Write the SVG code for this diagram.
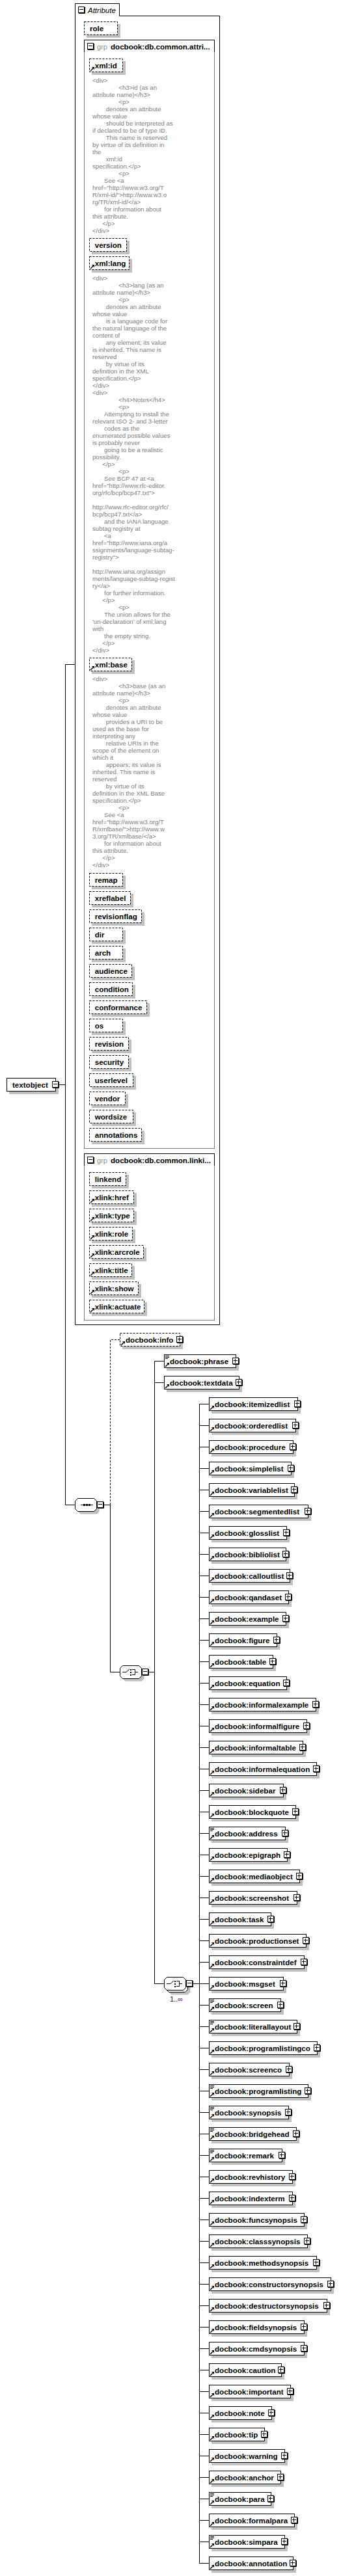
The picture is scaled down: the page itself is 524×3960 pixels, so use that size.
<svg xmlns="http://www.w3.org/2000/svg" xmlns:xlink="http://www.w3.org/1999/xlink" width="524" height="3960" viewBox="0 0 524 3960">
<style>
.sh{fill:#c0c0c0;stroke:none}
.el{fill:#fff;stroke:#000}
.at{fill:#fff;stroke:#000;stroke-dasharray:3 2}
.t{font-family:"Liberation Sans",Arial,sans-serif;font-weight:bold;font-size:11.6px;fill:#000}
.an{font-family:"Liberation Sans",Arial,sans-serif;font-size:9.6px;fill:#808080}
.ln{fill:none;stroke:#000}
.dl{fill:none;stroke:#000;stroke-dasharray:3 2}
.gb{fill:none;stroke:#808080}
.gh{fill:none;stroke:#000}
.grp{font-family:"Liberation Sans",Arial,sans-serif;font-size:11px;fill:#909090}
.tab{font-family:"Liberation Sans",Arial,sans-serif;font-style:italic;font-size:11.5px;fill:#000}
.mult{font-family:"Liberation Sans",Arial,sans-serif;font-size:11px;fill:#400040}
</style>
<defs>
<g id="plus"><rect x="0.5" y="0.5" width="9" height="9" fill="#fff" stroke="#000"/><path d="M10.5,1V10.5H1" fill="none" stroke="#000"/><path d="M2,4.5H8M4.5,2V8" fill="none" stroke="#000"/></g>
<g id="minus"><rect x="0.5" y="0.5" width="9" height="9" fill="#fff" stroke="#000"/><path d="M10.5,1V10.5H1" fill="none" stroke="#000"/><path d="M2,4.5H8" fill="none" stroke="#000"/></g>
<g id="ref"><path d="M2,19 L6,15" fill="none" stroke="#000" stroke-width="1.4"/><path d="M4,13 H8 V17 Z" fill="#000"/></g>
<path id="txi" d="M2,2.5H8M2,4.5H8M2,6.5H6" fill="none" stroke="#000"/>
<polygon id="oct" points="4.5,0.5 29.5,0.5 33.5,4.5 33.5,16.5 29.5,20.5 4.5,20.5 0.5,16.5 0.5,4.5"/>
<g id="chi"><path d="M4,10.5H10L15,6M19,6.5H23.5V14.5H19M23.5,10.5H28" fill="none" stroke="#000"/><rect x="16" y="6" width="2" height="2" fill="#000"/><rect x="16" y="10" width="2" height="2" fill="#000"/><rect x="16" y="14" width="2" height="2" fill="#000"/></g>
</defs>
<rect width="524" height="3960" fill="#fff"/>

<g id="connectors">
<path class="ln" d="M100.5,1021.5V2313.5M100.5,1021.5H115M91,1667.5H100.5M100.5,2313.5H115"/>
<path class="ln" d="M160,2313.5H169.5V2570.5H184"/>
<path class="dl" d="M169.5,2313V2059.5H184"/>
<path class="ln" d="M229,2570.5H237.5M237.5,2092.5V3049.5M237.5,2092.5H252M237.5,2125.5H252M237.5,3049.5H252"/>
<path class="ln" d="M297,3049.5H321M306.5,2158.5V3940.5M306.5,2158.5H321M306.5,2191.5H321M306.5,2224.5H321M306.5,2257.5H321M306.5,2290.5H321M306.5,2323.5H321M306.5,2356.5H321M306.5,2389.5H321M306.5,2422.5H321M306.5,2455.5H321M306.5,2488.5H321M306.5,2521.5H321M306.5,2554.5H321M306.5,2587.5H321M306.5,2620.5H321M306.5,2653.5H321M306.5,2686.5H321M306.5,2719.5H321M306.5,2752.5H321M306.5,2785.5H321M306.5,2818.5H321M306.5,2851.5H321M306.5,2884.5H321M306.5,2917.5H321M306.5,2950.5H321M306.5,2983.5H321M306.5,3016.5H321M306.5,3082.5H321M306.5,3115.5H321M306.5,3148.5H321M306.5,3181.5H321M306.5,3214.5H321M306.5,3247.5H321M306.5,3280.5H321M306.5,3313.5H321M306.5,3346.5H321M306.5,3379.5H321M306.5,3412.5H321M306.5,3445.5H321M306.5,3478.5H321M306.5,3511.5H321M306.5,3544.5H321M306.5,3577.5H321M306.5,3610.5H321M306.5,3643.5H321M306.5,3676.5H321M306.5,3709.5H321M306.5,3742.5H321M306.5,3775.5H321M306.5,3808.5H321M306.5,3841.5H321M306.5,3874.5H321M306.5,3907.5H321M306.5,3940.5H321"/>
</g>

<g id="attributes">
<path class="gh" d="M115.5,2036.5V5.5H183.5V24.5H337.5V2036.5Z"/>
<use href="#minus" x="120" y="10"/>
<text class="tab" x="135" y="19.5">Attribute</text>
<g id="a-role"><rect class="sh" x="133" y="37" width="52" height="21"/><rect class="at" x="129.5" y="33.5" width="51" height="20"/><text class="t" x="138" y="47.5">role</text></g>

<g id="grp-common-attributes">
<rect class="gb" x="129.5" y="61.5" width="200" height="1704"/>
<path class="gh" d="M129.5,80V61.5H329.5V80"/>
<use href="#minus" x="134" y="66"/>
<text class="grp" x="149" y="75.5">grp</text>
<text class="t" x="170" y="75.5">docbook:db.common.attri...</text>
<g id="a-xml-id"><rect class="sh" x="141" y="94" width="52" height="21"/><rect class="at" x="137.5" y="90.5" width="51" height="20"/><use href="#ref" x="137" y="90"/><text class="t" x="145.7" y="104.5">xml:id</text></g>
<text class="an"><tspan x="142" y="126.5">&lt;div&gt;</tspan><tspan x="182.3" y="137.5">&lt;h3&gt;id (as an</tspan><tspan x="142" y="148.5">attribute name)&lt;/h3&gt;</tspan><tspan x="182.3" y="159.5">&lt;p&gt;</tspan><tspan x="162.7" y="170.5">denotes an attribute</tspan><tspan x="142" y="181.5">whose value</tspan><tspan x="162.7" y="192.5">should be interpreted as</tspan><tspan x="142" y="203.5">if declared to be of type ID.</tspan><tspan x="162.7" y="214.5">This name is reserved</tspan><tspan x="142" y="225.5">by virtue of its definition in</tspan><tspan x="142" y="236.5">the</tspan><tspan x="162.7" y="247.5">xml:id</tspan><tspan x="142" y="258.5">specification.&lt;/p&gt;</tspan><tspan x="182.3" y="269.5">&lt;p&gt;</tspan><tspan x="160" y="280.5">See &lt;a</tspan><tspan x="142" y="291.5">href="http://www.w3.org/T</tspan><tspan x="142" y="302.5">R/xml-id/"&gt;http://www.w3.o</tspan><tspan x="142" y="313.5">rg/TR/xml-id/&lt;/a&gt;</tspan><tspan x="160" y="324.5">for information about</tspan><tspan x="142" y="335.5">this attribute.</tspan><tspan x="157.3" y="346.5">&lt;/p&gt;</tspan><tspan x="142" y="357.5">&lt;/div&gt;</tspan></text>
<g id="a-version"><rect class="sh" x="141" y="370" width="58" height="21"/><rect class="at" x="137.5" y="366.5" width="57" height="20"/><text class="t" x="145.7" y="380.5">version</text></g>
<g id="a-xml-lang"><rect class="sh" x="141" y="398" width="62" height="21"/><rect class="at" x="137.5" y="394.5" width="61" height="20"/><use href="#ref" x="137" y="394"/><text class="t" x="145.7" y="408.5">xml:lang</text></g>
<text class="an"><tspan x="142" y="430.5">&lt;div&gt;</tspan><tspan x="182.3" y="441.5">&lt;h3&gt;lang (as an</tspan><tspan x="142" y="452.5">attribute name)&lt;/h3&gt;</tspan><tspan x="182.3" y="463.5">&lt;p&gt;</tspan><tspan x="162.7" y="474.5">denotes an attribute</tspan><tspan x="142" y="485.5">whose value</tspan><tspan x="162.7" y="496.5">is a language code for</tspan><tspan x="142" y="507.5">the natural language of the</tspan><tspan x="142" y="518.5">content of</tspan><tspan x="162.7" y="529.5">any element; its value</tspan><tspan x="142" y="540.5">is inherited.  This name is</tspan><tspan x="142" y="551.5">reserved</tspan><tspan x="162.7" y="562.5">by virtue of its</tspan><tspan x="142" y="573.5">definition in the XML</tspan><tspan x="142" y="584.5">specification.&lt;/p&gt;</tspan><tspan x="142" y="595.5">&lt;/div&gt;</tspan><tspan x="142" y="606.5">&lt;div&gt;</tspan><tspan x="182.3" y="617.5">&lt;h4&gt;Notes&lt;/h4&gt;</tspan><tspan x="182.3" y="628.5">&lt;p&gt;</tspan><tspan x="160" y="639.5">Attempting to install the</tspan><tspan x="142" y="650.5">relevant ISO 2- and 3-letter</tspan><tspan x="160" y="661.5">codes as the</tspan><tspan x="142" y="672.5">enumerated possible values</tspan><tspan x="142" y="683.5">is probably never</tspan><tspan x="160" y="694.5">going to be a realistic</tspan><tspan x="142" y="705.5">possibility.</tspan><tspan x="157.3" y="716.5">&lt;/p&gt;</tspan><tspan x="182.3" y="727.5">&lt;p&gt;</tspan><tspan x="160" y="738.5">See BCP 47 at &lt;a</tspan><tspan x="142" y="749.5">href="http://www.rfc-editor.</tspan><tspan x="142" y="760.5">org/rfc/bcp/bcp47.txt"&gt;</tspan><tspan x="142" y="782.5">http://www.rfc-editor.org/rfc/</tspan><tspan x="142" y="793.5">bcp/bcp47.txt&lt;/a&gt;</tspan><tspan x="160" y="804.5">and the IANA language</tspan><tspan x="142" y="815.5">subtag registry at</tspan><tspan x="160" y="826.5">&lt;a</tspan><tspan x="142" y="837.5">href="http://www.iana.org/a</tspan><tspan x="142" y="848.5">ssignments/language-subtag-</tspan><tspan x="142" y="859.5">registry"&gt;</tspan><tspan x="142" y="881.5">http://www.iana.org/assign</tspan><tspan x="142" y="892.5">ments/language-subtag-regist</tspan><tspan x="142" y="903.5">ry&lt;/a&gt;</tspan><tspan x="160" y="914.5">for further information.</tspan><tspan x="157.3" y="925.5">&lt;/p&gt;</tspan><tspan x="182.3" y="936.5">&lt;p&gt;</tspan><tspan x="160" y="947.5">The union allows for the</tspan><tspan x="142" y="958.5">'un-declaration' of xml:lang</tspan><tspan x="142" y="969.5">with</tspan><tspan x="160" y="980.5">the empty string.</tspan><tspan x="157.3" y="991.5">&lt;/p&gt;</tspan><tspan x="142" y="1002.5">&lt;/div&gt;</tspan></text>
<g id="a-xml-base"><rect class="sh" x="141" y="1015" width="66" height="21"/><rect class="at" x="137.5" y="1011.5" width="65" height="20"/><use href="#ref" x="137" y="1011"/><text class="t" x="145.7" y="1025.5">xml:base</text></g>
<text class="an"><tspan x="142" y="1047">&lt;div&gt;</tspan><tspan x="182.3" y="1058">&lt;h3&gt;base (as an</tspan><tspan x="142" y="1069">attribute name)&lt;/h3&gt;</tspan><tspan x="182.3" y="1080">&lt;p&gt;</tspan><tspan x="162.7" y="1091">denotes an attribute</tspan><tspan x="142" y="1102">whose value</tspan><tspan x="162.7" y="1113">provides a URI to be</tspan><tspan x="142" y="1124">used as the base for</tspan><tspan x="142" y="1135">interpreting any</tspan><tspan x="162.7" y="1146">relative URIs in the</tspan><tspan x="142" y="1157">scope of the element on</tspan><tspan x="142" y="1168">which it</tspan><tspan x="162.7" y="1179">appears; its value is</tspan><tspan x="142" y="1190">inherited.  This name is</tspan><tspan x="142" y="1201">reserved</tspan><tspan x="162.7" y="1212">by virtue of its</tspan><tspan x="142" y="1223">definition in the XML Base</tspan><tspan x="142" y="1234">specification.&lt;/p&gt;</tspan><tspan x="182.3" y="1245">&lt;p&gt;</tspan><tspan x="160" y="1256">See &lt;a</tspan><tspan x="142" y="1267">href="http://www.w3.org/T</tspan><tspan x="142" y="1278">R/xmlbase/"&gt;http://www.w</tspan><tspan x="142" y="1289">3.org/TR/xmlbase/&lt;/a&gt;</tspan><tspan x="160" y="1300">for information about</tspan><tspan x="142" y="1311">this attribute.</tspan><tspan x="157.3" y="1322">&lt;/p&gt;</tspan><tspan x="142" y="1333">&lt;/div&gt;</tspan></text>
<g id="a-remap"><rect class="sh" x="141" y="1346" width="52" height="21"/><rect class="at" x="137.5" y="1342.5" width="51" height="20"/><text class="t" x="145.7" y="1356.5">remap</text></g>
<g id="a-xreflabel"><rect class="sh" x="141" y="1374" width="64" height="21"/><rect class="at" x="137.5" y="1370.5" width="63" height="20"/><text class="t" x="145.7" y="1384.5">xreflabel</text></g>
<g id="a-revisionflag"><rect class="sh" x="141" y="1402" width="81" height="21"/><rect class="at" x="137.5" y="1398.5" width="80" height="20"/><text class="t" x="145.7" y="1412.5">revisionflag</text></g>
<g id="a-dir"><rect class="sh" x="141" y="1430" width="52" height="21"/><rect class="at" x="137.5" y="1426.5" width="51" height="20"/><text class="t" x="145.7" y="1440.5">dir</text></g>
<g id="a-arch"><rect class="sh" x="141" y="1458" width="52" height="21"/><rect class="at" x="137.5" y="1454.5" width="51" height="20"/><text class="t" x="145.7" y="1468.5">arch</text></g>
<g id="a-audience"><rect class="sh" x="141" y="1486" width="66" height="21"/><rect class="at" x="137.5" y="1482.5" width="65" height="20"/><text class="t" x="145.7" y="1496.5">audience</text></g>
<g id="a-condition"><rect class="sh" x="141" y="1514" width="67" height="21"/><rect class="at" x="137.5" y="1510.5" width="66" height="20"/><text class="t" x="145.7" y="1524.5">condition</text></g>
<g id="a-conformance"><rect class="sh" x="141" y="1542" width="89" height="21"/><rect class="at" x="137.5" y="1538.5" width="88" height="20"/><text class="t" x="145.7" y="1552.5">conformance</text></g>
<g id="a-os"><rect class="sh" x="141" y="1570" width="52" height="21"/><rect class="at" x="137.5" y="1566.5" width="51" height="20"/><text class="t" x="145.7" y="1580.5">os</text></g>
<g id="a-revision"><rect class="sh" x="141" y="1598" width="61" height="21"/><rect class="at" x="137.5" y="1594.5" width="60" height="20"/><text class="t" x="145.7" y="1608.5">revision</text></g>
<g id="a-security"><rect class="sh" x="141" y="1626" width="61" height="21"/><rect class="at" x="137.5" y="1622.5" width="60" height="20"/><text class="t" x="145.7" y="1636.5">security</text></g>
<g id="a-userlevel"><rect class="sh" x="141" y="1654" width="68" height="21"/><rect class="at" x="137.5" y="1650.5" width="67" height="20"/><text class="t" x="145.7" y="1664.5">userlevel</text></g>
<g id="a-vendor"><rect class="sh" x="141" y="1682" width="56" height="21"/><rect class="at" x="137.5" y="1678.5" width="55" height="20"/><text class="t" x="145.7" y="1692.5">vendor</text></g>
<g id="a-wordsize"><rect class="sh" x="141" y="1710" width="68" height="21"/><rect class="at" x="137.5" y="1706.5" width="67" height="20"/><text class="t" x="145.7" y="1720.5">wordsize</text></g>
<g id="a-annotations"><rect class="sh" x="141" y="1738" width="81" height="21"/><rect class="at" x="137.5" y="1734.5" width="80" height="20"/><text class="t" x="145.7" y="1748.5">annotations</text></g>
</g>

<g id="grp-common-linking">
<rect class="gb" x="129.5" y="1773.5" width="200" height="256"/>
<path class="gh" d="M129.5,1792V1773.5H329.5V1792"/>
<use href="#minus" x="134" y="1778"/>
<text class="grp" x="149" y="1787.5">grp</text>
<text class="t" x="170" y="1787.5">docbook:db.common.linki...</text>
<g id="a-linkend"><rect class="sh" x="141" y="1806" width="57" height="21"/><rect class="at" x="137.5" y="1802.5" width="56" height="20"/><text class="t" x="145.7" y="1816.5">linkend</text></g>
<g id="a-xlink-href"><rect class="sh" x="141" y="1834" width="69" height="21"/><rect class="at" x="137.5" y="1830.5" width="68" height="20"/><use href="#ref" x="137" y="1830"/><text class="t" x="145.7" y="1844.5">xlink:href</text></g>
<g id="a-xlink-type"><rect class="sh" x="141" y="1862" width="69" height="21"/><rect class="at" x="137.5" y="1858.5" width="68" height="20"/><use href="#ref" x="137" y="1858"/><text class="t" x="145.7" y="1872.5">xlink:type</text></g>
<g id="a-xlink-role"><rect class="sh" x="141" y="1890" width="67" height="21"/><rect class="at" x="137.5" y="1886.5" width="66" height="20"/><use href="#ref" x="137" y="1886"/><text class="t" x="145.7" y="1900.5">xlink:role</text></g>
<g id="a-xlink-arcrole"><rect class="sh" x="141" y="1918" width="84" height="21"/><rect class="at" x="137.5" y="1914.5" width="83" height="20"/><use href="#ref" x="137" y="1914"/><text class="t" x="145.7" y="1928.5">xlink:arcrole</text></g>
<g id="a-xlink-title"><rect class="sh" x="141" y="1946" width="66" height="21"/><rect class="at" x="137.5" y="1942.5" width="65" height="20"/><use href="#ref" x="137" y="1942"/><text class="t" x="145.7" y="1956.5">xlink:title</text></g>
<g id="a-xlink-show"><rect class="sh" x="141" y="1974" width="76" height="21"/><rect class="at" x="137.5" y="1970.5" width="75" height="20"/><use href="#ref" x="137" y="1970"/><text class="t" x="145.7" y="1984.5">xlink:show</text></g>
<g id="a-xlink-actuate"><rect class="sh" x="141" y="2002" width="85" height="21"/><rect class="at" x="137.5" y="1998.5" width="84" height="20"/><use href="#ref" x="137" y="1998"/><text class="t" x="145.7" y="2012.5">xlink:actuate</text></g>
</g>
</g>

<g id="n-textobject"><rect class="sh" x="14" y="1661" width="76" height="21"/><rect class="el" x="10.5" y="1657.5" width="75" height="20"/><text class="t" x="19" y="1671.5">textobject</text><use href="#minus" x="80" y="1662"/></g>

<g id="n-sequence"><use href="#oct" class="sh" x="119" y="2307"/><use href="#oct" class="el" x="115" y="2303"/><path d="M124,2313.5H143" stroke="#000"/><rect x="128" y="2312" width="3" height="3"/><rect x="132" y="2312" width="3" height="3"/><rect x="136" y="2312" width="3" height="3"/><use href="#minus" x="149" y="2308"/></g>

<g id="n-info"><rect class="sh" x="188" y="2053" width="93" height="21"/><rect class="at" x="184.5" y="2049.5" width="92" height="20"/><use href="#ref" x="184" y="2049"/><text class="t" x="193" y="2063.5">docbook:info</text><use href="#plus" x="271" y="2054"/></g>

<g id="n-choice1"><use href="#oct" class="sh" x="188" y="2564"/><use href="#oct" class="el" x="184" y="2560"/><use href="#chi" x="184" y="2560"/><use href="#minus" x="218" y="2565"/></g>

<g id="n-phrase"><rect class="sh" x="256" y="2086" width="111" height="21"/><rect class="el" x="252.5" y="2082.5" width="110" height="20"/><use href="#txi" x="252" y="2082"/><use href="#ref" x="252" y="2082"/><text class="t" x="261" y="2096.5">docbook:phrase</text><use href="#plus" x="357" y="2087"/></g>
<g id="n-textdata"><rect class="sh" x="256" y="2119" width="116" height="21"/><rect class="el" x="252.5" y="2115.5" width="115" height="20"/><use href="#ref" x="252" y="2115"/><text class="t" x="261" y="2129.5">docbook:textdata</text><use href="#plus" x="362" y="2120"/></g>

<g id="n-choice2"><use href="#oct" class="sh" x="259" y="3046"/><use href="#oct" class="el" x="255" y="3042"/><use href="#oct" class="el" x="252" y="3039"/><use href="#chi" x="252" y="3039"/><use href="#minus" x="286" y="3044"/><text class="mult" x="261" y="3077">1..∞</text></g>

<g id="n-itemizedlist"><rect class="sh" x="325" y="2152" width="137" height="21"/><rect class="el" x="321.5" y="2148.5" width="136" height="20"/><use href="#ref" x="321" y="2148"/><text class="t" x="330" y="2162.5">docbook:itemizedlist</text><use href="#plus" x="452" y="2153"/></g>
<g id="n-orderedlist"><rect class="sh" x="325" y="2185" width="134" height="21"/><rect class="el" x="321.5" y="2181.5" width="133" height="20"/><use href="#ref" x="321" y="2181"/><text class="t" x="330" y="2195.5">docbook:orderedlist</text><use href="#plus" x="449" y="2186"/></g>
<g id="n-procedure"><rect class="sh" x="325" y="2218" width="130" height="21"/><rect class="el" x="321.5" y="2214.5" width="129" height="20"/><use href="#ref" x="321" y="2214"/><text class="t" x="330" y="2228.5">docbook:procedure</text><use href="#plus" x="445" y="2219"/></g>
<g id="n-simplelist"><rect class="sh" x="325" y="2251" width="127" height="21"/><rect class="el" x="321.5" y="2247.5" width="126" height="20"/><use href="#ref" x="321" y="2247"/><text class="t" x="330" y="2261.5">docbook:simplelist</text><use href="#plus" x="442" y="2252"/></g>
<g id="n-variablelist"><rect class="sh" x="325" y="2284" width="132" height="21"/><rect class="el" x="321.5" y="2280.5" width="131" height="20"/><use href="#ref" x="321" y="2280"/><text class="t" x="330" y="2294.5">docbook:variablelist</text><use href="#plus" x="447" y="2285"/></g>
<g id="n-segmentedlist"><rect class="sh" x="325" y="2317" width="153" height="21"/><rect class="el" x="321.5" y="2313.5" width="152" height="20"/><use href="#ref" x="321" y="2313"/><text class="t" x="330" y="2327.5">docbook:segmentedlist</text><use href="#plus" x="468" y="2318"/></g>
<g id="n-glosslist"><rect class="sh" x="325" y="2350" width="120" height="21"/><rect class="el" x="321.5" y="2346.5" width="119" height="20"/><use href="#ref" x="321" y="2346"/><text class="t" x="330" y="2360.5">docbook:glosslist</text><use href="#plus" x="435" y="2351"/></g>
<g id="n-bibliolist"><rect class="sh" x="325" y="2383" width="119" height="21"/><rect class="el" x="321.5" y="2379.5" width="118" height="20"/><use href="#ref" x="321" y="2379"/><text class="t" x="330" y="2393.5">docbook:bibliolist</text><use href="#plus" x="434" y="2384"/></g>
<g id="n-calloutlist"><rect class="sh" x="325" y="2416" width="125" height="21"/><rect class="el" x="321.5" y="2412.5" width="124" height="20"/><use href="#ref" x="321" y="2412"/><text class="t" x="330" y="2426.5">docbook:calloutlist</text><use href="#plus" x="440" y="2417"/></g>
<g id="n-qandaset"><rect class="sh" x="325" y="2449" width="123" height="21"/><rect class="el" x="321.5" y="2445.5" width="122" height="20"/><use href="#ref" x="321" y="2445"/><text class="t" x="330" y="2459.5">docbook:qandaset</text><use href="#plus" x="438" y="2450"/></g>
<g id="n-example"><rect class="sh" x="325" y="2482" width="119" height="21"/><rect class="el" x="321.5" y="2478.5" width="118" height="20"/><use href="#ref" x="321" y="2478"/><text class="t" x="330" y="2492.5">docbook:example</text><use href="#plus" x="434" y="2483"/></g>
<g id="n-figure"><rect class="sh" x="325" y="2515" width="105" height="21"/><rect class="el" x="321.5" y="2511.5" width="104" height="20"/><use href="#ref" x="321" y="2511"/><text class="t" x="330" y="2525.5">docbook:figure</text><use href="#plus" x="420" y="2516"/></g>
<g id="n-table"><rect class="sh" x="325" y="2548" width="99" height="21"/><rect class="el" x="321.5" y="2544.5" width="98" height="20"/><use href="#ref" x="321" y="2544"/><text class="t" x="330" y="2558.5">docbook:table</text><use href="#plus" x="414" y="2549"/></g>
<g id="n-equation"><rect class="sh" x="325" y="2581" width="120" height="21"/><rect class="el" x="321.5" y="2577.5" width="119" height="20"/><use href="#ref" x="321" y="2577"/><text class="t" x="330" y="2591.5">docbook:equation</text><use href="#plus" x="435" y="2582"/></g>
<g id="n-informalexample"><rect class="sh" x="325" y="2614" width="165" height="21"/><rect class="el" x="321.5" y="2610.5" width="164" height="20"/><use href="#ref" x="321" y="2610"/><text class="t" x="330" y="2624.5">docbook:informalexample</text><use href="#plus" x="480" y="2615"/></g>
<g id="n-informalfigure"><rect class="sh" x="325" y="2647" width="151" height="21"/><rect class="el" x="321.5" y="2643.5" width="150" height="20"/><use href="#ref" x="321" y="2643"/><text class="t" x="330" y="2657.5">docbook:informalfigure</text><use href="#plus" x="466" y="2648"/></g>
<g id="n-informaltable"><rect class="sh" x="325" y="2680" width="145" height="21"/><rect class="el" x="321.5" y="2676.5" width="144" height="20"/><use href="#ref" x="321" y="2676"/><text class="t" x="330" y="2690.5">docbook:informaltable</text><use href="#plus" x="460" y="2681"/></g>
<g id="n-informalequation"><rect class="sh" x="325" y="2713" width="166" height="21"/><rect class="el" x="321.5" y="2709.5" width="165" height="20"/><use href="#ref" x="321" y="2709"/><text class="t" x="330" y="2723.5">docbook:informalequation</text><use href="#plus" x="481" y="2714"/></g>
<g id="n-sidebar"><rect class="sh" x="325" y="2746" width="115" height="21"/><rect class="el" x="321.5" y="2742.5" width="114" height="20"/><use href="#ref" x="321" y="2742"/><text class="t" x="330" y="2756.5">docbook:sidebar</text><use href="#plus" x="430" y="2747"/></g>
<g id="n-blockquote"><rect class="sh" x="325" y="2779" width="134" height="21"/><rect class="el" x="321.5" y="2775.5" width="133" height="20"/><use href="#ref" x="321" y="2775"/><text class="t" x="330" y="2789.5">docbook:blockquote</text><use href="#plus" x="449" y="2780"/></g>
<g id="n-address"><rect class="sh" x="325" y="2812" width="118" height="21"/><rect class="el" x="321.5" y="2808.5" width="117" height="20"/><use href="#txi" x="321" y="2808"/><use href="#ref" x="321" y="2808"/><text class="t" x="330" y="2822.5">docbook:address</text><use href="#plus" x="433" y="2813"/></g>
<g id="n-epigraph"><rect class="sh" x="325" y="2845" width="121" height="21"/><rect class="el" x="321.5" y="2841.5" width="120" height="20"/><use href="#ref" x="321" y="2841"/><text class="t" x="330" y="2855.5">docbook:epigraph</text><use href="#plus" x="436" y="2846"/></g>
<g id="n-mediaobject"><rect class="sh" x="325" y="2878" width="140" height="21"/><rect class="el" x="321.5" y="2874.5" width="139" height="20"/><use href="#ref" x="321" y="2874"/><text class="t" x="330" y="2888.5">docbook:mediaobject</text><use href="#plus" x="455" y="2879"/></g>
<g id="n-screenshot"><rect class="sh" x="325" y="2911" width="136" height="21"/><rect class="el" x="321.5" y="2907.5" width="135" height="20"/><use href="#ref" x="321" y="2907"/><text class="t" x="330" y="2921.5">docbook:screenshot</text><use href="#plus" x="451" y="2912"/></g>
<g id="n-task"><rect class="sh" x="325" y="2944" width="96" height="21"/><rect class="el" x="321.5" y="2940.5" width="95" height="20"/><use href="#ref" x="321" y="2940"/><text class="t" x="330" y="2954.5">docbook:task</text><use href="#plus" x="411" y="2945"/></g>
<g id="n-productionset"><rect class="sh" x="325" y="2977" width="150" height="21"/><rect class="el" x="321.5" y="2973.5" width="149" height="20"/><use href="#ref" x="321" y="2973"/><text class="t" x="330" y="2987.5">docbook:productionset</text><use href="#plus" x="465" y="2978"/></g>
<g id="n-constraintdef"><rect class="sh" x="325" y="3010" width="147" height="21"/><rect class="el" x="321.5" y="3006.5" width="146" height="20"/><use href="#ref" x="321" y="3006"/><text class="t" x="330" y="3020.5">docbook:constraintdef</text><use href="#plus" x="462" y="3011"/></g>
<g id="n-msgset"><rect class="sh" x="325" y="3043" width="115" height="21"/><rect class="el" x="321.5" y="3039.5" width="114" height="20"/><use href="#ref" x="321" y="3039"/><text class="t" x="330" y="3053.5">docbook:msgset</text><use href="#plus" x="430" y="3044"/></g>
<g id="n-screen"><rect class="sh" x="325" y="3076" width="111" height="21"/><rect class="el" x="321.5" y="3072.5" width="110" height="20"/><use href="#txi" x="321" y="3072"/><use href="#ref" x="321" y="3072"/><text class="t" x="330" y="3086.5">docbook:screen</text><use href="#plus" x="426" y="3077"/></g>
<g id="n-literallayout"><rect class="sh" x="325" y="3109" width="136" height="21"/><rect class="el" x="321.5" y="3105.5" width="135" height="20"/><use href="#txi" x="321" y="3105"/><use href="#ref" x="321" y="3105"/><text class="t" x="330" y="3119.5">docbook:literallayout</text><use href="#plus" x="451" y="3110"/></g>
<g id="n-programlistingco"><rect class="sh" x="325" y="3142" width="167" height="21"/><rect class="el" x="321.5" y="3138.5" width="166" height="20"/><use href="#ref" x="321" y="3138"/><text class="t" x="330" y="3152.5">docbook:programlistingco</text><use href="#plus" x="482" y="3143"/></g>
<g id="n-screenco"><rect class="sh" x="325" y="3175" width="124" height="21"/><rect class="el" x="321.5" y="3171.5" width="123" height="20"/><use href="#ref" x="321" y="3171"/><text class="t" x="330" y="3185.5">docbook:screenco</text><use href="#plus" x="439" y="3176"/></g>
<g id="n-programlisting"><rect class="sh" x="325" y="3208" width="153" height="21"/><rect class="el" x="321.5" y="3204.5" width="152" height="20"/><use href="#txi" x="321" y="3204"/><use href="#ref" x="321" y="3204"/><text class="t" x="330" y="3218.5">docbook:programlisting</text><use href="#plus" x="468" y="3209"/></g>
<g id="n-synopsis"><rect class="sh" x="325" y="3241" width="123" height="21"/><rect class="el" x="321.5" y="3237.5" width="122" height="20"/><use href="#txi" x="321" y="3237"/><use href="#ref" x="321" y="3237"/><text class="t" x="330" y="3251.5">docbook:synopsis</text><use href="#plus" x="438" y="3242"/></g>
<g id="n-bridgehead"><rect class="sh" x="325" y="3274" width="135" height="21"/><rect class="el" x="321.5" y="3270.5" width="134" height="20"/><use href="#txi" x="321" y="3270"/><use href="#ref" x="321" y="3270"/><text class="t" x="330" y="3284.5">docbook:bridgehead</text><use href="#plus" x="450" y="3275"/></g>
<g id="n-remark"><rect class="sh" x="325" y="3307" width="113" height="21"/><rect class="el" x="321.5" y="3303.5" width="112" height="20"/><use href="#txi" x="321" y="3303"/><use href="#ref" x="321" y="3303"/><text class="t" x="330" y="3317.5">docbook:remark</text><use href="#plus" x="428" y="3308"/></g>
<g id="n-revhistory"><rect class="sh" x="325" y="3340" width="129" height="21"/><rect class="el" x="321.5" y="3336.5" width="128" height="20"/><use href="#ref" x="321" y="3336"/><text class="t" x="330" y="3350.5">docbook:revhistory</text><use href="#plus" x="444" y="3341"/></g>
<g id="n-indexterm"><rect class="sh" x="325" y="3373" width="129" height="21"/><rect class="el" x="321.5" y="3369.5" width="128" height="20"/><use href="#ref" x="321" y="3369"/><text class="t" x="330" y="3383.5">docbook:indexterm</text><use href="#plus" x="444" y="3374"/></g>
<g id="n-funcsynopsis"><rect class="sh" x="325" y="3406" width="147" height="21"/><rect class="el" x="321.5" y="3402.5" width="146" height="20"/><use href="#ref" x="321" y="3402"/><text class="t" x="330" y="3416.5">docbook:funcsynopsis</text><use href="#plus" x="462" y="3407"/></g>
<g id="n-classsynopsis"><rect class="sh" x="325" y="3439" width="152" height="21"/><rect class="el" x="321.5" y="3435.5" width="151" height="20"/><use href="#ref" x="321" y="3435"/><text class="t" x="330" y="3449.5">docbook:classsynopsis</text><use href="#plus" x="467" y="3440"/></g>
<g id="n-methodsynopsis"><rect class="sh" x="325" y="3472" width="166" height="21"/><rect class="el" x="321.5" y="3468.5" width="165" height="20"/><use href="#ref" x="321" y="3468"/><text class="t" x="330" y="3482.5">docbook:methodsynopsis</text><use href="#plus" x="481" y="3473"/></g>
<g id="n-constructorsynopsis"><rect class="sh" x="325" y="3505" width="188" height="21"/><rect class="el" x="321.5" y="3501.5" width="187" height="20"/><use href="#ref" x="321" y="3501"/><text class="t" x="330" y="3515.5">docbook:constructorsynopsis</text><use href="#plus" x="503" y="3506"/></g>
<g id="n-destructorsynopsis"><rect class="sh" x="325" y="3538" width="182" height="21"/><rect class="el" x="321.5" y="3534.5" width="181" height="20"/><use href="#ref" x="321" y="3534"/><text class="t" x="330" y="3548.5">docbook:destructorsynopsis</text><use href="#plus" x="497" y="3539"/></g>
<g id="n-fieldsynopsis"><rect class="sh" x="325" y="3571" width="147" height="21"/><rect class="el" x="321.5" y="3567.5" width="146" height="20"/><use href="#ref" x="321" y="3567"/><text class="t" x="330" y="3581.5">docbook:fieldsynopsis</text><use href="#plus" x="462" y="3572"/></g>
<g id="n-cmdsynopsis"><rect class="sh" x="325" y="3604" width="147" height="21"/><rect class="el" x="321.5" y="3600.5" width="146" height="20"/><use href="#ref" x="321" y="3600"/><text class="t" x="330" y="3614.5">docbook:cmdsynopsis</text><use href="#plus" x="462" y="3605"/></g>
<g id="n-caution"><rect class="sh" x="325" y="3637" width="112" height="21"/><rect class="el" x="321.5" y="3633.5" width="111" height="20"/><use href="#ref" x="321" y="3633"/><text class="t" x="330" y="3647.5">docbook:caution</text><use href="#plus" x="427" y="3638"/></g>
<g id="n-important"><rect class="sh" x="325" y="3670" width="126" height="21"/><rect class="el" x="321.5" y="3666.5" width="125" height="20"/><use href="#ref" x="321" y="3666"/><text class="t" x="330" y="3680.5">docbook:important</text><use href="#plus" x="441" y="3671"/></g>
<g id="n-note"><rect class="sh" x="325" y="3703" width="97" height="21"/><rect class="el" x="321.5" y="3699.5" width="96" height="20"/><use href="#ref" x="321" y="3699"/><text class="t" x="330" y="3713.5">docbook:note</text><use href="#plus" x="412" y="3704"/></g>
<g id="n-tip"><rect class="sh" x="325" y="3736" width="86" height="21"/><rect class="el" x="321.5" y="3732.5" width="85" height="20"/><use href="#ref" x="321" y="3732"/><text class="t" x="330" y="3746.5">docbook:tip</text><use href="#plus" x="401" y="3737"/></g>
<g id="n-warning"><rect class="sh" x="325" y="3769" width="117" height="21"/><rect class="el" x="321.5" y="3765.5" width="116" height="20"/><use href="#ref" x="321" y="3765"/><text class="t" x="330" y="3779.5">docbook:warning</text><use href="#plus" x="432" y="3770"/></g>
<g id="n-anchor"><rect class="sh" x="325" y="3802" width="111" height="21"/><rect class="el" x="321.5" y="3798.5" width="110" height="20"/><use href="#ref" x="321" y="3798"/><text class="t" x="330" y="3812.5">docbook:anchor</text><use href="#plus" x="426" y="3803"/></g>
<g id="n-para"><rect class="sh" x="325" y="3835" width="96" height="21"/><rect class="el" x="321.5" y="3831.5" width="95" height="20"/><use href="#txi" x="321" y="3831"/><use href="#ref" x="321" y="3831"/><text class="t" x="330" y="3845.5">docbook:para</text><use href="#plus" x="411" y="3836"/></g>
<g id="n-formalpara"><rect class="sh" x="325" y="3868" width="132" height="21"/><rect class="el" x="321.5" y="3864.5" width="131" height="20"/><use href="#ref" x="321" y="3864"/><text class="t" x="330" y="3878.5">docbook:formalpara</text><use href="#plus" x="447" y="3869"/></g>
<g id="n-simpara"><rect class="sh" x="325" y="3901" width="117" height="21"/><rect class="el" x="321.5" y="3897.5" width="116" height="20"/><use href="#txi" x="321" y="3897"/><use href="#ref" x="321" y="3897"/><text class="t" x="330" y="3911.5">docbook:simpara</text><use href="#plus" x="432" y="3902"/></g>
<g id="n-annotation"><rect class="sh" x="325" y="3934" width="130" height="21"/><rect class="el" x="321.5" y="3930.5" width="129" height="20"/><use href="#ref" x="321" y="3930"/><text class="t" x="330" y="3944.5">docbook:annotation</text><use href="#plus" x="445" y="3935"/></g>
</svg>
